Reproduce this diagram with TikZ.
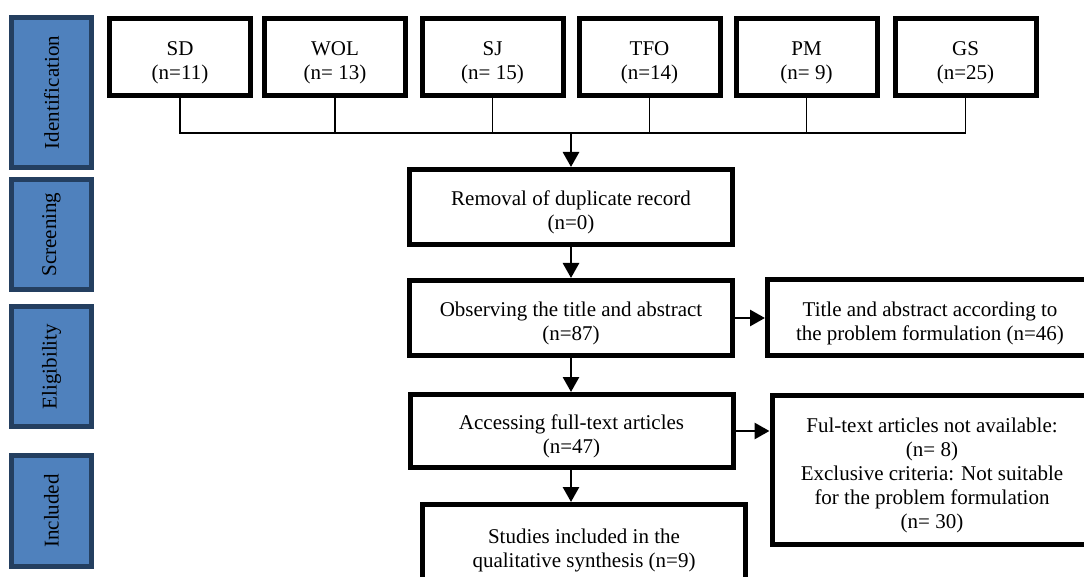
\documentclass[tikz,border=0pt]{standalone}
\usepackage{fontspec}
\setmainfont{Liberation Serif}
\usepackage{graphicx}
\usetikzlibrary{arrows.meta}
\definecolor{phasefill}{HTML}{4F81BD}
\definecolor{phaseline}{HTML}{243F60}
\newcommand\fl{\rule{0pt}{25.5pt}}
\begin{document}
\begin{tikzpicture}[x=1pt,y=-1pt,
  every node/.style={font=\fontsize{21}{24}\selectfont, align=center, inner sep=0pt},
  boxbase/.style={draw=black, line width=5pt, fill=white},
  src/.style={boxbase, minimum width=141pt, minimum height=77pt},
  flowbox/.style={boxbase, minimum width=323pt, minimum height=75pt},
  phase/.style={draw=phaseline, line width=5pt, fill=phasefill, minimum width=80pt},
  conn/.style={line width=1.5pt},
  arr/.style={line width=2.8pt, -{Triangle[length=15pt,width=16pt]}}]
\useasboundingbox (0,0) rectangle (1084,577);
\clip (0,0) rectangle (1084,577);
\fill[white] (0,0) rectangle (1084,577);

% phase labels
\node[phase, minimum height=150pt] (ph1) at (51.5,92.5) {\rotatebox{90}{Identification}};
\node[phase, minimum height=110pt] (ph2) at (51.5,234.5) {\rotatebox{90}{Screening}};
\node[phase, minimum height=120pt] (ph3) at (51.5,366.5) {\rotatebox{90}{Eligibility}};
\node[phase, minimum height=111pt] (ph4) at (51.5,511) {\rotatebox{90}{Included}};

% sources
\node[src] (sd)  at (180,57)   {\fl SD\\(n=11)};
\node[src] (wol) at (335,57)   {\fl WOL\\(n= 13)};
\node[src] (sj)  at (492.5,57) {\fl SJ\\(n= 15)};
\node[src] (tfo) at (649.5,57) {\fl TFO\\(n=14)};
\node[src] (pm)  at (806.5,57) {\fl PM\\(n= 9)};
\node[src] (gs)  at (965.5,57) {\fl GS\\(n=25)};

\coordinate (j) at (571,133);

% main flow
\node[flowbox] (rem) at (571,207) {\fl Removal of duplicate record\\(n=0)};
\node[flowbox] (obs) at (571,318) {\fl Observing the title and abstract\\(n=87)};
\node[flowbox, minimum width=325pt, minimum height=76pt] (tit) at (930,317.5) {\fl Title and abstract according to\\the problem formulation (n=46)};
\node[flowbox, minimum height=73pt] (acc) at (571.5,431) {\fl Accessing full-text articles\\(n=47)};
\node[flowbox, minimum width=320pt, minimum height=149pt] (ful) at (932,470) {\fl Ful-text articles not available:\\(n= 8)\\Exclusive criteria: Not suitable\\for the problem formulation\\(n= 30)};
\node[flowbox, minimum height=81pt] (stu) at (584,545) {\fl Studies included in the\\qualitative synthesis (n=9)};

% bracket
\draw[conn] (sd.south) -- (sd.south |- j) -- (gs.south |- j) -- (gs.south);
\foreach \n in {wol,sj,tfo,pm} \draw[conn] (\n.south) -- (\n.south |- j);

% arrows
\draw[arr] (j) -- (rem.north);
\draw[arr] (rem.south) -- (obs.north);
\draw[arr] (obs.east) -- (obs.east -| tit.west);
\draw[arr] (obs.south) -- (acc.north -| obs.south);
\draw[arr] (acc.east) -- (acc.east -| ful.west);
\draw[arr] (acc.south -| obs.south) -- (stu.north -| obs.south);
\end{tikzpicture}
\end{document}
